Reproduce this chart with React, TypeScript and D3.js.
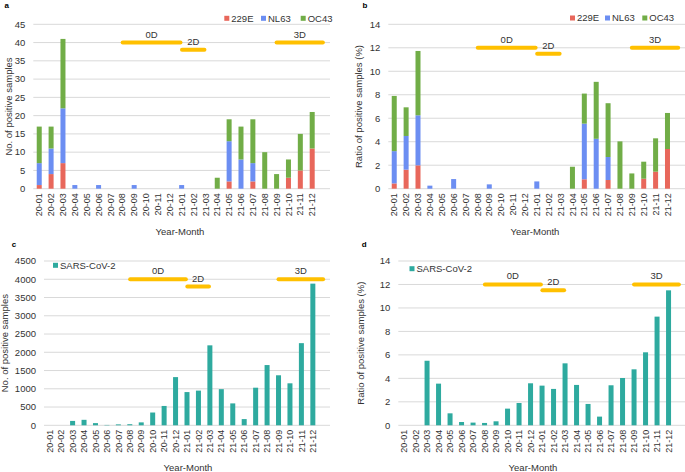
import React from "react";
import * as d3 from "d3";

const months = [
  "20-01", "20-02", "20-03", "20-04", "20-05", "20-06", "20-07", "20-08",
  "20-09", "20-10", "20-11", "20-12", "21-01", "21-02", "21-03", "21-04",
  "21-05", "21-06", "21-07", "21-08", "21-09", "21-10", "21-11", "21-12",
];

// panel a: positive counts per HCoV type (stacked)
const count229E = [1, 4, 7, 0, 0, 0, 0, 0, 0, 0, 0, 0, 0, 0, 0, 0, 2, 0, 2, 0, 0, 3, 5, 11];
const countNL63 = [6, 7, 15, 1, 0, 1, 0, 0, 1, 0, 0, 0, 1, 0, 0, 0, 11, 8, 5, 0, 0, 0, 0, 0];
const countOC43 = [10, 6, 19, 0, 0, 0, 0, 0, 0, 0, 0, 0, 0, 0, 0, 3, 6, 9, 12, 10, 4, 5, 10, 10];

// panel b: ratio (%) per HCoV type (stacked)
const ratio229E = [0.45, 1.62, 1.99, 0, 0, 0, 0, 0, 0, 0, 0, 0, 0, 0, 0, 0, 0.8, 0, 0.74, 0, 0, 0.85, 1.45, 3.38];
const ratioNL63 = [2.75, 2.87, 4.26, 0.26, 0, 0.82, 0, 0, 0.37, 0, 0, 0, 0.62, 0, 0, 0, 4.74, 4.25, 1.96, 0, 0, 0, 0, 0];
const ratioOC43 = [4.7, 2.44, 5.48, 0, 0, 0, 0, 0, 0, 0, 0, 0, 0, 0, 0, 1.87, 2.56, 4.85, 4.58, 4.03, 1.3, 1.45, 2.84, 3.07];

// panels c, d: SARS-CoV-2
const sarsCount = [0, 0, 120, 150, 60, 10, 25, 30, 80, 350, 530, 1320, 910, 950, 2190, 990, 600, 170, 1030, 1650, 1370, 1150, 2250, 3880];
const sarsRatio = [0, 0, 5.5, 3.55, 1.02, 0.28, 0.23, 0.2, 0.34, 1.42, 1.9, 3.58, 3.38, 3.1, 5.28, 3.44, 1.82, 0.74, 3.41, 4.03, 4.77, 6.22, 9.26, 11.5];

const hcovKeys = ["229E", "NL63", "OC43"];
const hcovColors = ["#E8675B", "#6C8EF2", "#71AD47"];
const sarsKeys = ["SARS-CoV-2"];
const sarsColors = ["#2EAA9F"];

// distancing periods, in month-index units
const periodLabels = ["0D", "2D", "3D"];
const periodStart = [7.03, 12.03, 20.0];
const periodEnd = [11.9, 13.92, 23.9];
const periodHigh = [true, false, true];

const FONT = "'Liberation Sans', Arial, Helvetica, sans-serif";
const TEXT = "#333";

interface PanelProps {
  tag: string;
  tagX: number;
  tagY: number;
  x0: number;
  x1: number;
  yTop: number;
  yBottom: number;
  yMax: number;
  yStep: number;
  yTitle: string;
  yTitleX: number;
  xTitleX: number;
  keys: string[];
  colors: string[];
  series: number[][];
  levels: [number, number];
  legendX: number;
  legendY: number;
  legendGaps: number[];
}

const Panel: React.FC<PanelProps> = (p) => {
  const step = (p.x1 - p.x0) / 25;
  const x = d3
    .scaleBand<string>()
    .domain(months)
    .range([p.x0, p.x0 + 24 * step]);
  const xi = (i: number) => p.x0 + (i + 0.5) * step;
  const y = d3.scaleLinear().domain([0, p.yMax]).range([p.yBottom, p.yTop]);
  const ticks = d3.range(0, p.yMax + p.yStep / 2, p.yStep);

  const rows = months.map((m, i) => {
    const r: any = { month: m };
    p.keys.forEach((k, j) => (r[k] = p.series[j][i]));
    return r;
  });
  const stacked = d3.stack<any>().keys(p.keys)(rows);
  const barW = 5;

  let lx = p.legendX;
  const legendPos = p.keys.map((_, j) => {
    const pos = lx;
    lx += p.legendGaps[j] || 0;
    return pos;
  });

  return (
    <g fontFamily={FONT}>
      <text x={p.tagX} y={p.tagY} fontSize={8} fontWeight="bold" fill="#000">
        {p.tag}
      </text>
      {ticks.map((t) => (
        <g key={t}>
          <line x1={p.x0} x2={p.x1} y1={y(t)} y2={y(t)} stroke="#D9D9D9" strokeWidth={1} />
          <text x={p.x0 - 8} y={y(t)} dy="0.35em" textAnchor="end" fontSize={9.5} fill={TEXT}>
            {t}
          </text>
        </g>
      ))}
      {stacked.map((layer, j) => (
        <g key={p.keys[j]} fill={p.colors[j]}>
          {layer.map((d, i) =>
            d[1] - d[0] > 0 ? (
              <rect
                key={i}
                x={(x(months[i]) as number) + step / 2 - barW / 2}
                width={barW}
                y={y(d[1])}
                height={y(d[0]) - y(d[1])}
              />
            ) : null
          )}
        </g>
      ))}
      {months.map((m) => (
        <text
          key={m}
          transform={`translate(${(x(m) as number) + step / 2},${p.yBottom + 4.5}) rotate(-90)`}
          dy="0.35em"
          textAnchor="end"
          fontSize={9}
          fill={TEXT}
        >
          {m}
        </text>
      ))}
      <text x={p.xTitleX} y={p.yBottom + 46} textAnchor="middle" fontSize={9.5} fill={TEXT}>
        Year-Month
      </text>
      <text
        transform={`translate(${p.yTitleX},${(p.yTop + p.yBottom) / 2}) rotate(-90)`}
        dy="0.35em"
        textAnchor="middle"
        fontSize={9.5}
        fill={TEXT}
      >
        {p.yTitle}
      </text>
      {periodLabels.map((lab, k) => {
        const yy = y(periodHigh[k] ? p.levels[0] : p.levels[1]);
        const a = xi(periodStart[k]);
        const b = xi(periodEnd[k]);
        return (
          <g key={lab}>
            <line x1={a} x2={b} y1={yy} y2={yy} stroke="#FFC000" strokeWidth={4} strokeLinecap="round" />
            <text x={(a + b) / 2} y={yy - 5} textAnchor="middle" fontSize={9.5} fill={TEXT}>
              {lab}
            </text>
          </g>
        );
      })}
      {p.keys.map((k, j) => (
        <g key={k} transform={`translate(${legendPos[j]},${p.legendY})`}>
          <rect x={0} y={-2.5} width={5} height={5} fill={p.colors[j]} />
          <text x={7} y={0} dy="0.35em" fontSize={9.5} fill={TEXT}>
            {k}
          </text>
        </g>
      ))}
    </g>
  );
};

export default function App() {
  return (
    <svg
      width={685}
      height={472}
      style={{ position: "absolute", left: 0, top: 0, background: "#fff" }}
    >
      <Panel
        tag="a" tagX={4.5} tagY={7.5}
        x0={33.3} x1={330} yTop={24.3} yBottom={188.7} yMax={45} yStep={5}
        yTitle="No. of positive samples" yTitleX={9} xTitleX={180}
        keys={hcovKeys} colors={hcovColors} series={[count229E, countNL63, countOC43]}
        levels={[40, 38]}
        legendX={224.3} legendY={18.3} legendGaps={[36.7, 39.7]}
      />
      <Panel
        tag="b" tagX={362.5} tagY={8}
        x0={388.3} x1={685.3} yTop={24.3} yBottom={188.7} yMax={14} yStep={2}
        yTitle="Ratio of positive samples (%)" yTitleX={359} xTitleX={535}
        keys={hcovKeys} colors={hcovColors} series={[ratio229E, ratioNL63, ratioOC43]}
        levels={[12, 11.5]}
        legendX={570} legendY={18} legendGaps={[35, 37.3]}
      />
      <Panel
        tag="c" tagX={11.7} tagY={247.3}
        x0={44} x1={330} yTop={261} yBottom={425.3} yMax={4500} yStep={500}
        yTitle="No. of positive samples" yTitleX={5} xTitleX={188}
        keys={sarsKeys} colors={sarsColors} series={[sarsCount]}
        levels={[4000, 3800]}
        legendX={53} legendY={265.3} legendGaps={[]}
      />
      <Panel
        tag="d" tagX={361.7} tagY={247.3}
        x0={398.3} x1={685.8} yTop={261} yBottom={425.3} yMax={14} yStep={2}
        yTitle="Ratio of positive samples (%)" yTitleX={361} xTitleX={533}
        keys={sarsKeys} colors={sarsColors} series={[sarsRatio]}
        levels={[12, 11.5]}
        legendX={409.5} legendY={268.7} legendGaps={[]}
      />
    </svg>
  );
}
